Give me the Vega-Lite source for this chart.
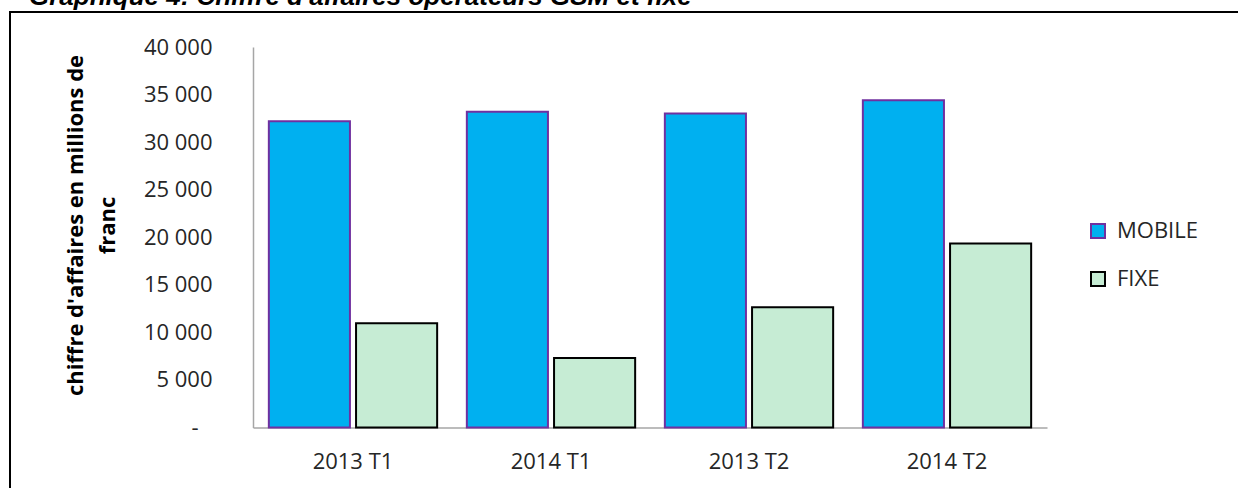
{
  "$schema": "https://vega.github.io/schema/vega-lite/v6.json",
  "width": 1231,
  "height": 479,
  "autosize": {"type": "none"},
  "padding": {"left": 10, "top": 12, "right": -3, "bottom": -3},
  "background": "white",
  "title": {
    "text": "Graphique 4: Chiffre d'affaires opérateurs GSM et fixe",
    "anchor": "start",
    "frame": "group",
    "font": "Liberation Sans",
    "fontSize": 26,
    "fontStyle": "italic",
    "fontWeight": "bold",
    "color": "black",
    "baseline": "alphabetic",
    "offset": 3,
    "dx": 19,
    "dy": 22
  },
  "config": {
    "view": {"stroke": "black", "strokeWidth": 2},
    "axis": {
      "labelFont": "Open Sans",
      "labelFontSize": 22,
      "labelColor": "#262626",
      "ticks": false,
      "tickSize": 0,
      "grid": false,
      "domainColor": "#a6a6a6",
      "domainWidth": 1.5
    }
  },
  "data": {
    "values": [
      {"periode": "2013 T1", "serie": "MOBILE", "valeur": 32200},
      {"periode": "2013 T1", "serie": "FIXE", "valeur": 10950},
      {"periode": "2014 T1", "serie": "MOBILE", "valeur": 33200},
      {"periode": "2014 T1", "serie": "FIXE", "valeur": 7300},
      {"periode": "2013 T2", "serie": "MOBILE", "valeur": 33000},
      {"periode": "2013 T2", "serie": "FIXE", "valeur": 12650},
      {"periode": "2014 T2", "serie": "MOBILE", "valeur": 34400},
      {"periode": "2014 T2", "serie": "FIXE", "valeur": 19350}
    ]
  },
  "mark": {"type": "bar", "strokeWidth": 2},
  "encoding": {
    "x": {
      "field": "periode",
      "type": "nominal",
      "sort": null,
      "scale": {"range": [243, 1037], "paddingInner": 0.15, "paddingOuter": 0.08},
      "axis": {
        "title": null,
        "labelAngle": 0,
        "offset": -63.5,
        "labelPadding": 24
      }
    },
    "xOffset": {
      "field": "serie",
      "type": "nominal",
      "sort": ["MOBILE", "FIXE"],
      "scale": {"paddingInner": 0.07}
    },
    "y": {
      "field": "valeur",
      "type": "quantitative",
      "scale": {"domain": [0, 40000], "range": [415.5, 35], "nice": false},
      "axis": {
        "offset": -243,
        "values": [0, 5000, 10000, 15000, 20000, 25000, 30000, 35000, 40000],
        "labelExpr": "datum.value == 0 ? '-' : replace(format(datum.value, ','), ',', ' ')",
        "labelPadding": {"condition": {"test": "datum.value == 0", "value": 55}, "value": 41},
        "title": ["chiffre d'affaires en millions de", "franc"],
        "titleFont": "Open Sans",
        "titleFontSize": 22,
        "titleFontWeight": "bold",
        "titleColor": "black",
        "titleLineHeight": 32,
        "titlePadding": 24,
        "titleY": 213
      }
    },
    "fill": {
      "field": "serie",
      "type": "nominal",
      "scale": {"domain": ["MOBILE", "FIXE"], "range": ["#00B0F0", "#C6ECD4"]},
      "legend": {
        "title": null,
        "orient": "none",
        "legendX": 1077,
        "legendY": 208,
        "symbolType": "square",
        "symbolSize": 196,
        "symbolStrokeWidth": 2,
        "symbolOpacity": 1,
        "labelFont": "Open Sans",
        "labelFontSize": 22,
        "labelColor": "#262626",
        "labelOffset": 8,
        "rowPadding": 26,
        "padding": 0
      }
    },
    "stroke": {
      "field": "serie",
      "type": "nominal",
      "scale": {"domain": ["MOBILE", "FIXE"], "range": ["#7030A0", "#000000"]},
      "legend": {
        "title": null,
        "orient": "none",
        "legendX": 1077,
        "legendY": 208,
        "symbolType": "square",
        "symbolSize": 196,
        "symbolStrokeWidth": 2,
        "symbolOpacity": 1,
        "labelFont": "Open Sans",
        "labelFontSize": 22,
        "labelColor": "#262626",
        "labelOffset": 8,
        "rowPadding": 26,
        "padding": 0
      }
    }
  }
}
